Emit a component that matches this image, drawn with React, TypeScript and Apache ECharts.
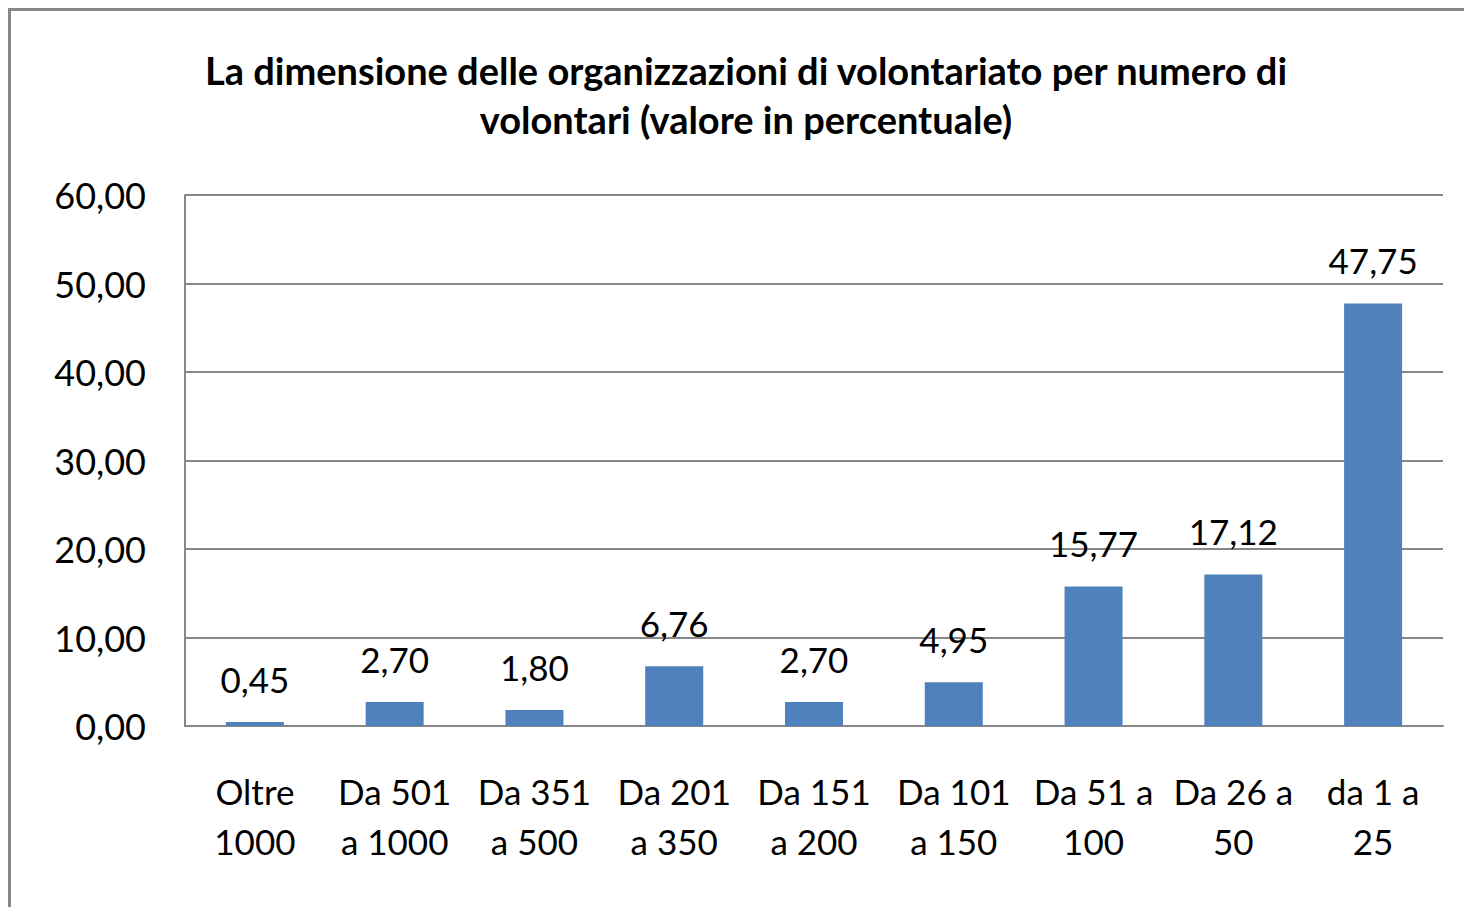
import React, { useEffect, useRef } from "react";
import * as echarts from "echarts";

const categories = [
  "Oltre\n1000",
  "Da 501\na 1000",
  "Da 351\na 500",
  "Da 201\na 350",
  "Da 151\na 200",
  "Da 101\na 150",
  "Da 51 a\n100",
  "Da 26 a\n50",
  "da 1 a\n25",
];
const values = [0.45, 2.7, 1.8, 6.76, 2.7, 4.95, 15.77, 17.12, 47.75];
const titleText =
  "La dimensione delle organizzazioni di volontariato per numero di\nvolontari (valore in percentuale)";

const fmt = (v: number) => v.toFixed(2).replace(".", ",");
const FONT = "Lato, 'Open Sans', sans-serif";
const GRAY = "#878787";

export default function App() {
  const ref = useRef<HTMLDivElement>(null);
  useEffect(() => {
    document.body.style.margin = "0";
    const chart = echarts.init(ref.current!, null, { renderer: "svg" });
    chart.setOption({
      animation: false,
      backgroundColor: "#ffffff",
      textStyle: { fontFamily: FONT },
      graphic: [
        {
          type: "rect",
          shape: { x: 9.5, y: 9.5, width: 1600, height: 1000 },
          style: { fill: "none", stroke: GRAY, lineWidth: 3 },
          silent: true,
        },
        {
          type: "text",
          x: 746,
          y: 94,
          style: {
            text: titleText,
            fontFamily: FONT,
            fontWeight: "bold",
            fontSize: 38,
            lineHeight: 49,
            fill: "#000",
            align: "center",
            verticalAlign: "middle",
          },
        },
      ],
      grid: { left: 185, right: 21, top: 195, bottom: 181, containLabel: false },
      xAxis: {
        type: "category",
        data: categories,
        axisLine: { show: true, lineStyle: { color: GRAY, width: 2 } },
        axisTick: { show: false },
        axisLabel: {
          interval: 0,
          margin: 40,
          fontSize: 35,
          lineHeight: 50,
          color: "#000",
          fontFamily: FONT,
        },
      },
      yAxis: {
        type: "value",
        min: 0,
        max: 60,
        interval: 10,
        axisLine: { show: true, lineStyle: { color: GRAY, width: 2 } },
        axisTick: { show: false },
        splitLine: { lineStyle: { color: GRAY, width: 2 } },
        axisLabel: {
          margin: 39,
          fontSize: 36,
          color: "#000",
          fontFamily: FONT,
          formatter: (v: number) => fmt(v),
        },
      },
      series: [
        {
          type: "bar",
          data: values,
          barWidth: 58,
          itemStyle: { color: "#4F81BD" },
          label: {
            show: true,
            position: "top",
            distance: 26,
            fontSize: 35,
            color: "#000",
            fontFamily: FONT,
            formatter: (p: any) => fmt(p.value),
          },
        },
      ],
    });
    return () => chart.dispose();
  }, []);
  return <div ref={ref} style={{ width: 1464, height: 907 }} />;
}
